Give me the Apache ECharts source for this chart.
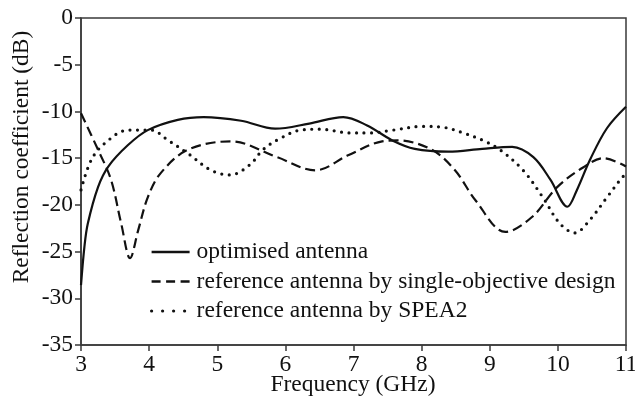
<!DOCTYPE html>
<html>
<head>
<meta charset="utf-8">
<script src="https://cdn.jsdelivr.net/npm/echarts@6/dist/echarts.min.js"></script>
<style>
  html, body { margin: 0; padding: 0; background: #fff; }
  #chart { width: 635px; height: 401px; }
</style>
</head>
<body>
<div id="chart"></div>
<script>
// Reflection coefficient (dB) versus frequency (GHz) for three antenna designs
const xTicks = [3, 4, 5, 6, 7, 8, 9, 10, 11];
const yTicks = [0, -5, -10, -15, -20, -25, -30, -35];

const optFreq = [3.0, 3.05, 3.1, 3.25, 3.4, 3.69, 3.98, 4.42, 4.8, 5.35, 5.85, 6.35, 6.85, 7.2, 7.57, 7.9, 8.39, 8.89, 9.33, 9.64, 9.89, 10.14, 10.28, 10.47, 10.72, 11.0];
const optDb   = [-28.6, -24.5, -22.0, -18.1, -15.9, -13.6, -12.0, -10.9, -10.6, -11.0, -11.85, -11.3, -10.6, -11.5, -13.1, -14.0, -14.3, -14.0, -13.8, -14.9, -17.3, -20.2, -18.4, -15.2, -11.8, -9.5];

const singleFreq = [3.0, 3.25, 3.44, 3.59, 3.72, 3.84, 3.98, 4.17, 4.57, 5.2, 5.88, 6.44, 6.92, 7.42, 7.65, 8.15, 8.49, 8.79, 9.23, 9.62, 9.99, 10.37, 10.67, 11.0];
const singleDb   = [-10.2, -14.1, -17.3, -22.0, -25.7, -22.7, -19.2, -16.6, -14.1, -13.2, -14.9, -16.3, -14.7, -13.2, -13.1, -14.1, -16.3, -19.5, -22.9, -21.3, -18.1, -16.0, -15.0, -15.9];

const speaFreq = [3.0, 3.15, 3.35, 3.69, 4.03, 4.28, 4.57, 4.91, 5.19, 5.48, 5.67, 5.92, 6.22, 6.51, 6.95, 7.24, 7.58, 8.02, 8.32, 8.61, 8.9, 9.15, 9.49, 9.78, 10.03, 10.25, 10.47, 10.72, 10.94, 11.0];
const speaDb   = [-18.4, -15.2, -13.4, -12.0, -12.0, -13.1, -14.5, -16.3, -16.8, -15.7, -14.1, -12.9, -12.0, -11.9, -12.3, -12.3, -12.0, -11.6, -11.7, -12.3, -13.1, -14.1, -16.3, -19.2, -22.0, -23.0, -21.6, -19.2, -17.1, -16.7];

const seriesNames = [
  'optimised antenna',
  'reference antenna by single-objective design',
  'reference antenna by SPEA2'
];
const xTitle = 'Frequency (GHz)';
const yTitle = 'Reflection coefficient (dB)';

const pair = (xs, ys) => xs.map((x, i) => [x, ys[i]]);

const FONT = 'Liberation Serif';
const FS = 23.5;
const INK = '#111';
const AXIS = '#3a3a3a';

const chart = echarts.init(document.getElementById('chart'), null, { renderer: 'canvas' });

chart.setOption({
  animation: false,
  backgroundColor: '#fff',
  grid: {
    left: 81, right: 9, top: 18, bottom: 56,
    containLabel: false, outerBoundsMode: 'none',
    show: true, borderColor: AXIS, borderWidth: 1.5, backgroundColor: 'transparent'
  },
  // axis titles
  graphic: [
    {
      type: 'text', x: 22, y: 157, rotation: Math.PI / 2,
      style: {
        text: yTitle, fontFamily: FONT, fontSize: FS, fill: INK,
        align: 'center', verticalAlign: 'middle'
      }
    },
    {
      type: 'text', x: 353, y: 385,
      style: {
        text: xTitle, fontFamily: FONT, fontSize: FS, fill: INK,
        align: 'center', verticalAlign: 'middle'
      }
    }
  ],
  legend: {
    orient: 'vertical',
    left: 150, top: 240,
    padding: 0,
    itemWidth: 38, itemHeight: 14, itemGap: 5.5,
    data: [
      { name: seriesNames[0], lineStyle: { width: 2.4 } },
      { name: seriesNames[1], lineStyle: { width: 2.4, type: [9, 5.5] } },
      { name: seriesNames[2], lineStyle: { width: 3.2, type: [0, 11], cap: 'round' } }
    ],
    itemStyle: { opacity: 0, borderWidth: 0 },
    textStyle: { fontFamily: FONT, fontSize: FS, color: INK, padding: [0, 0, 0, 2], overflow: 'none' }
  },
  xAxis: {
    type: 'value',
    min: xTicks[0], max: xTicks[xTicks.length - 1], interval: 1,
    axisLine: { show: true, onZero: false, lineStyle: { color: AXIS, width: 1.5 } },
    axisTick: { show: true, inside: false, length: 6, lineStyle: { color: AXIS, width: 1.5 } },
    axisLabel: { fontFamily: FONT, fontSize: FS, color: INK, margin: 8 },
    splitLine: { show: false }
  },
  yAxis: {
    type: 'value',
    min: yTicks[yTicks.length - 1], max: yTicks[0], interval: 5,
    axisLine: { show: true, onZero: false, lineStyle: { color: AXIS, width: 1.5 } },
    axisTick: { show: true, inside: false, length: 6, lineStyle: { color: AXIS, width: 1.5 } },
    axisLabel: { fontFamily: FONT, fontSize: FS, color: INK, margin: 8 },
    splitLine: { show: false }
  },
  series: [
    {
      name: seriesNames[0], type: 'line', data: pair(optFreq, optDb),
      smooth: 0.35, symbol: 'none',
      lineStyle: { color: INK, width: 2.2, type: 'solid' },
      itemStyle: { color: INK }
    },
    {
      name: seriesNames[1], type: 'line', data: pair(singleFreq, singleDb),
      smooth: 0.35, symbol: 'none',
      lineStyle: { color: INK, width: 2.2, type: [10, 5] },
      itemStyle: { color: INK }
    },
    {
      name: seriesNames[2], type: 'line', data: pair(speaFreq, speaDb),
      smooth: 0.35, symbol: 'none',
      lineStyle: { color: INK, width: 3.2, type: [0, 7.5], cap: 'round' },
      itemStyle: { color: INK }
    }
  ]
});
</script>
</body>
</html>
